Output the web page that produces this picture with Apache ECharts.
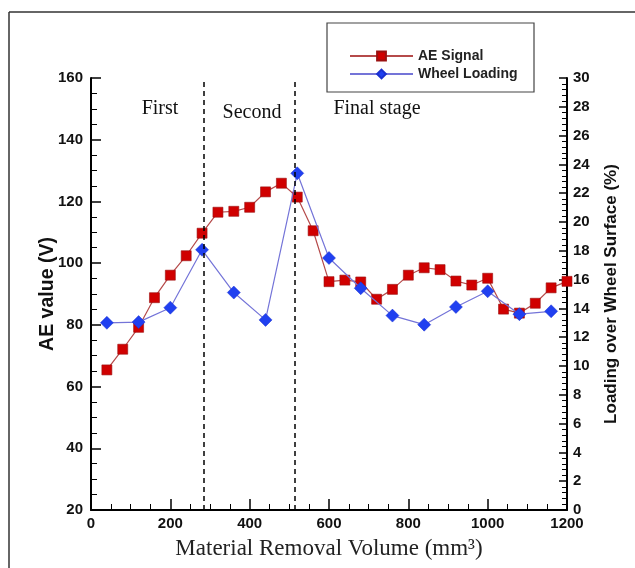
<!DOCTYPE html>
<html>
<head>
<meta charset="utf-8">
<script src="https://cdn.jsdelivr.net/npm/echarts@6/dist/echarts.min.js"></script>
<style>html,body{margin:0;padding:0;background:#fff}#c{width:635px;height:568px}</style>
</head>
<body>
<div id="c"></div>
<script>
// ---- data ----
const aeVolume = [40,80,120,160,200,240,280,320,360,400,440,480,520,560,600,640,680,720,760,800,840,880,920,960,1000,1040,1080,1120,1160,1200];
const aeSignal = [65.4,72.1,79.2,88.8,96.1,102.4,109.7,116.5,116.8,118.1,123.1,125.9,121.4,110.5,94.0,94.5,93.9,88.3,91.5,96.1,98.5,97.9,94.2,92.9,95.1,85.1,83.8,87.0,92.0,94.1];
const loadVolume = [40,120,200,280,360,440,520,600,680,760,840,920,1000,1080,1160];
const wheelLoading = [13.0,13.05,14.05,18.07,15.1,13.2,23.38,17.5,15.4,13.5,12.87,14.1,15.19,13.6,13.8];
const stageBoundaries = [284, 514];
const stageNames = ['First', 'Second', 'Final stage'];
const seriesNames = ['AE Signal', 'Wheel Loading'];
const xTicks = [0,200,400,600,800,1000,1200];

const chart = echarts.init(document.getElementById('c'));
const sans = 'Liberation Sans, Arial, sans-serif';
const serif = 'Liberation Serif, Times New Roman, serif';
const axisLabel = {color:'#111', fontFamily:sans, fontSize:15, fontWeight:'bold', formatter:v=>String(v)};

chart.setOption({
  animation:false,
  backgroundColor:'#fff',
  grid:{left:91, right:68, top:78, bottom:58},
  legend:{
    orient:'vertical', left:344, top:44,
    itemWidth:63, itemHeight:11, itemGap:4,
    data:seriesNames,
    textStyle:{fontFamily:sans, fontSize:14, fontWeight:'bold', color:'#222'}
  },
  xAxis:{
    type:'value', min:xTicks[0], max:xTicks[xTicks.length-1], interval:200,
    name:'Material Removal Volume (mm³)', nameLocation:'middle', nameGap:27,
    nameTextStyle:{fontFamily:serif, fontSize:23, color:'#222'},
    axisLine:{lineStyle:{color:'#000', width:2}},
    axisTick:{inside:true, length:11, lineStyle:{color:'#000', width:1.5}},
    minorTick:{show:true, splitNumber:4, length:6, lineStyle:{color:'#000', width:1}},
    splitLine:{show:false},
    axisLabel:Object.assign({margin:6}, axisLabel)
  },
  yAxis:[{
    type:'value', min:20, max:160, interval:20, position:'left',
    name:'AE value (V)', nameLocation:'middle', nameGap:33, nameRotate:90, nameMoveOverlap:false,
    nameTextStyle:{fontFamily:sans, fontSize:19.5, fontWeight:'bold', color:'#111'},
    axisLine:{show:true, lineStyle:{color:'#000', width:2}},
    axisTick:{show:true, inside:true, length:10, lineStyle:{color:'#000', width:1.5}},
    minorTick:{show:true, splitNumber:4, length:6, lineStyle:{color:'#000', width:1}},
    splitLine:{show:false},
    axisLabel:Object.assign({margin:8}, axisLabel)
  },{
    type:'value', min:0, max:30, interval:2, position:'right',
    name:'Loading over Wheel Surface (%)', nameLocation:'middle', nameGap:36, nameRotate:90,
    nameTextStyle:{fontFamily:sans, fontSize:17, fontWeight:'bold', color:'#111'},
    axisLine:{show:true, lineStyle:{color:'#000', width:2}},
    axisTick:{show:true, inside:true, length:8, lineStyle:{color:'#000', width:1.5}},
    minorTick:{show:true, splitNumber:5, length:5, lineStyle:{color:'#000', width:1}},
    splitLine:{show:false},
    axisLabel:Object.assign({margin:6}, axisLabel)
  }],
  series:[{
    name:seriesNames[0], type:'line', yAxisIndex:0,
    data:aeVolume.map((v,i)=>[v, aeSignal[i]]),
    symbol:'rect', symbolSize:10, showAllSymbol:true,
    lineStyle:{color:'#b54a4a', width:1.2},
    itemStyle:{color:'#d00000', borderColor:'#9a1010', borderWidth:0.6},
    z:3,
    markLine:{
      silent:true, symbol:'none', animation:false,
      label:{show:false},
      lineStyle:{color:'#000', type:[5,4], width:1.5},
      data:stageBoundaries.map(b=>({xAxis:b}))
    }
  },{
    name:seriesNames[1], type:'line', yAxisIndex:1,
    data:loadVolume.map((v,i)=>[v, wheelLoading[i]]),
    symbol:'diamond', symbolSize:13, showAllSymbol:true,
    lineStyle:{color:'#7474d8', width:1.2},
    itemStyle:{color:'#2040f0', borderColor:'#1a30d0', borderWidth:0.5},
    z:4
  }],
  graphic:[
    {type:'line', shape:{x1:9, y1:12, x2:9, y2:568}, style:{stroke:'#333', lineWidth:1.5}},
    {type:'line', shape:{x1:9, y1:12, x2:635, y2:12}, style:{stroke:'#333', lineWidth:1.5}},
    {type:'rect', shape:{x:327, y:23, width:207, height:69}, style:{fill:'none', stroke:'#444', lineWidth:1.2}, z:-1},
    {type:'text', x:160, y:109, style:{text:stageNames[0], font:'20px '+serif, fill:'#111', align:'center', verticalAlign:'middle'}},
    {type:'text', x:252, y:113, style:{text:stageNames[1], font:'20px '+serif, fill:'#111', align:'center', verticalAlign:'middle'}},
    {type:'text', x:377, y:109, style:{text:stageNames[2], font:'20px '+serif, fill:'#111', align:'center', verticalAlign:'middle'}}
  ]
});
</script>
</body>
</html>
